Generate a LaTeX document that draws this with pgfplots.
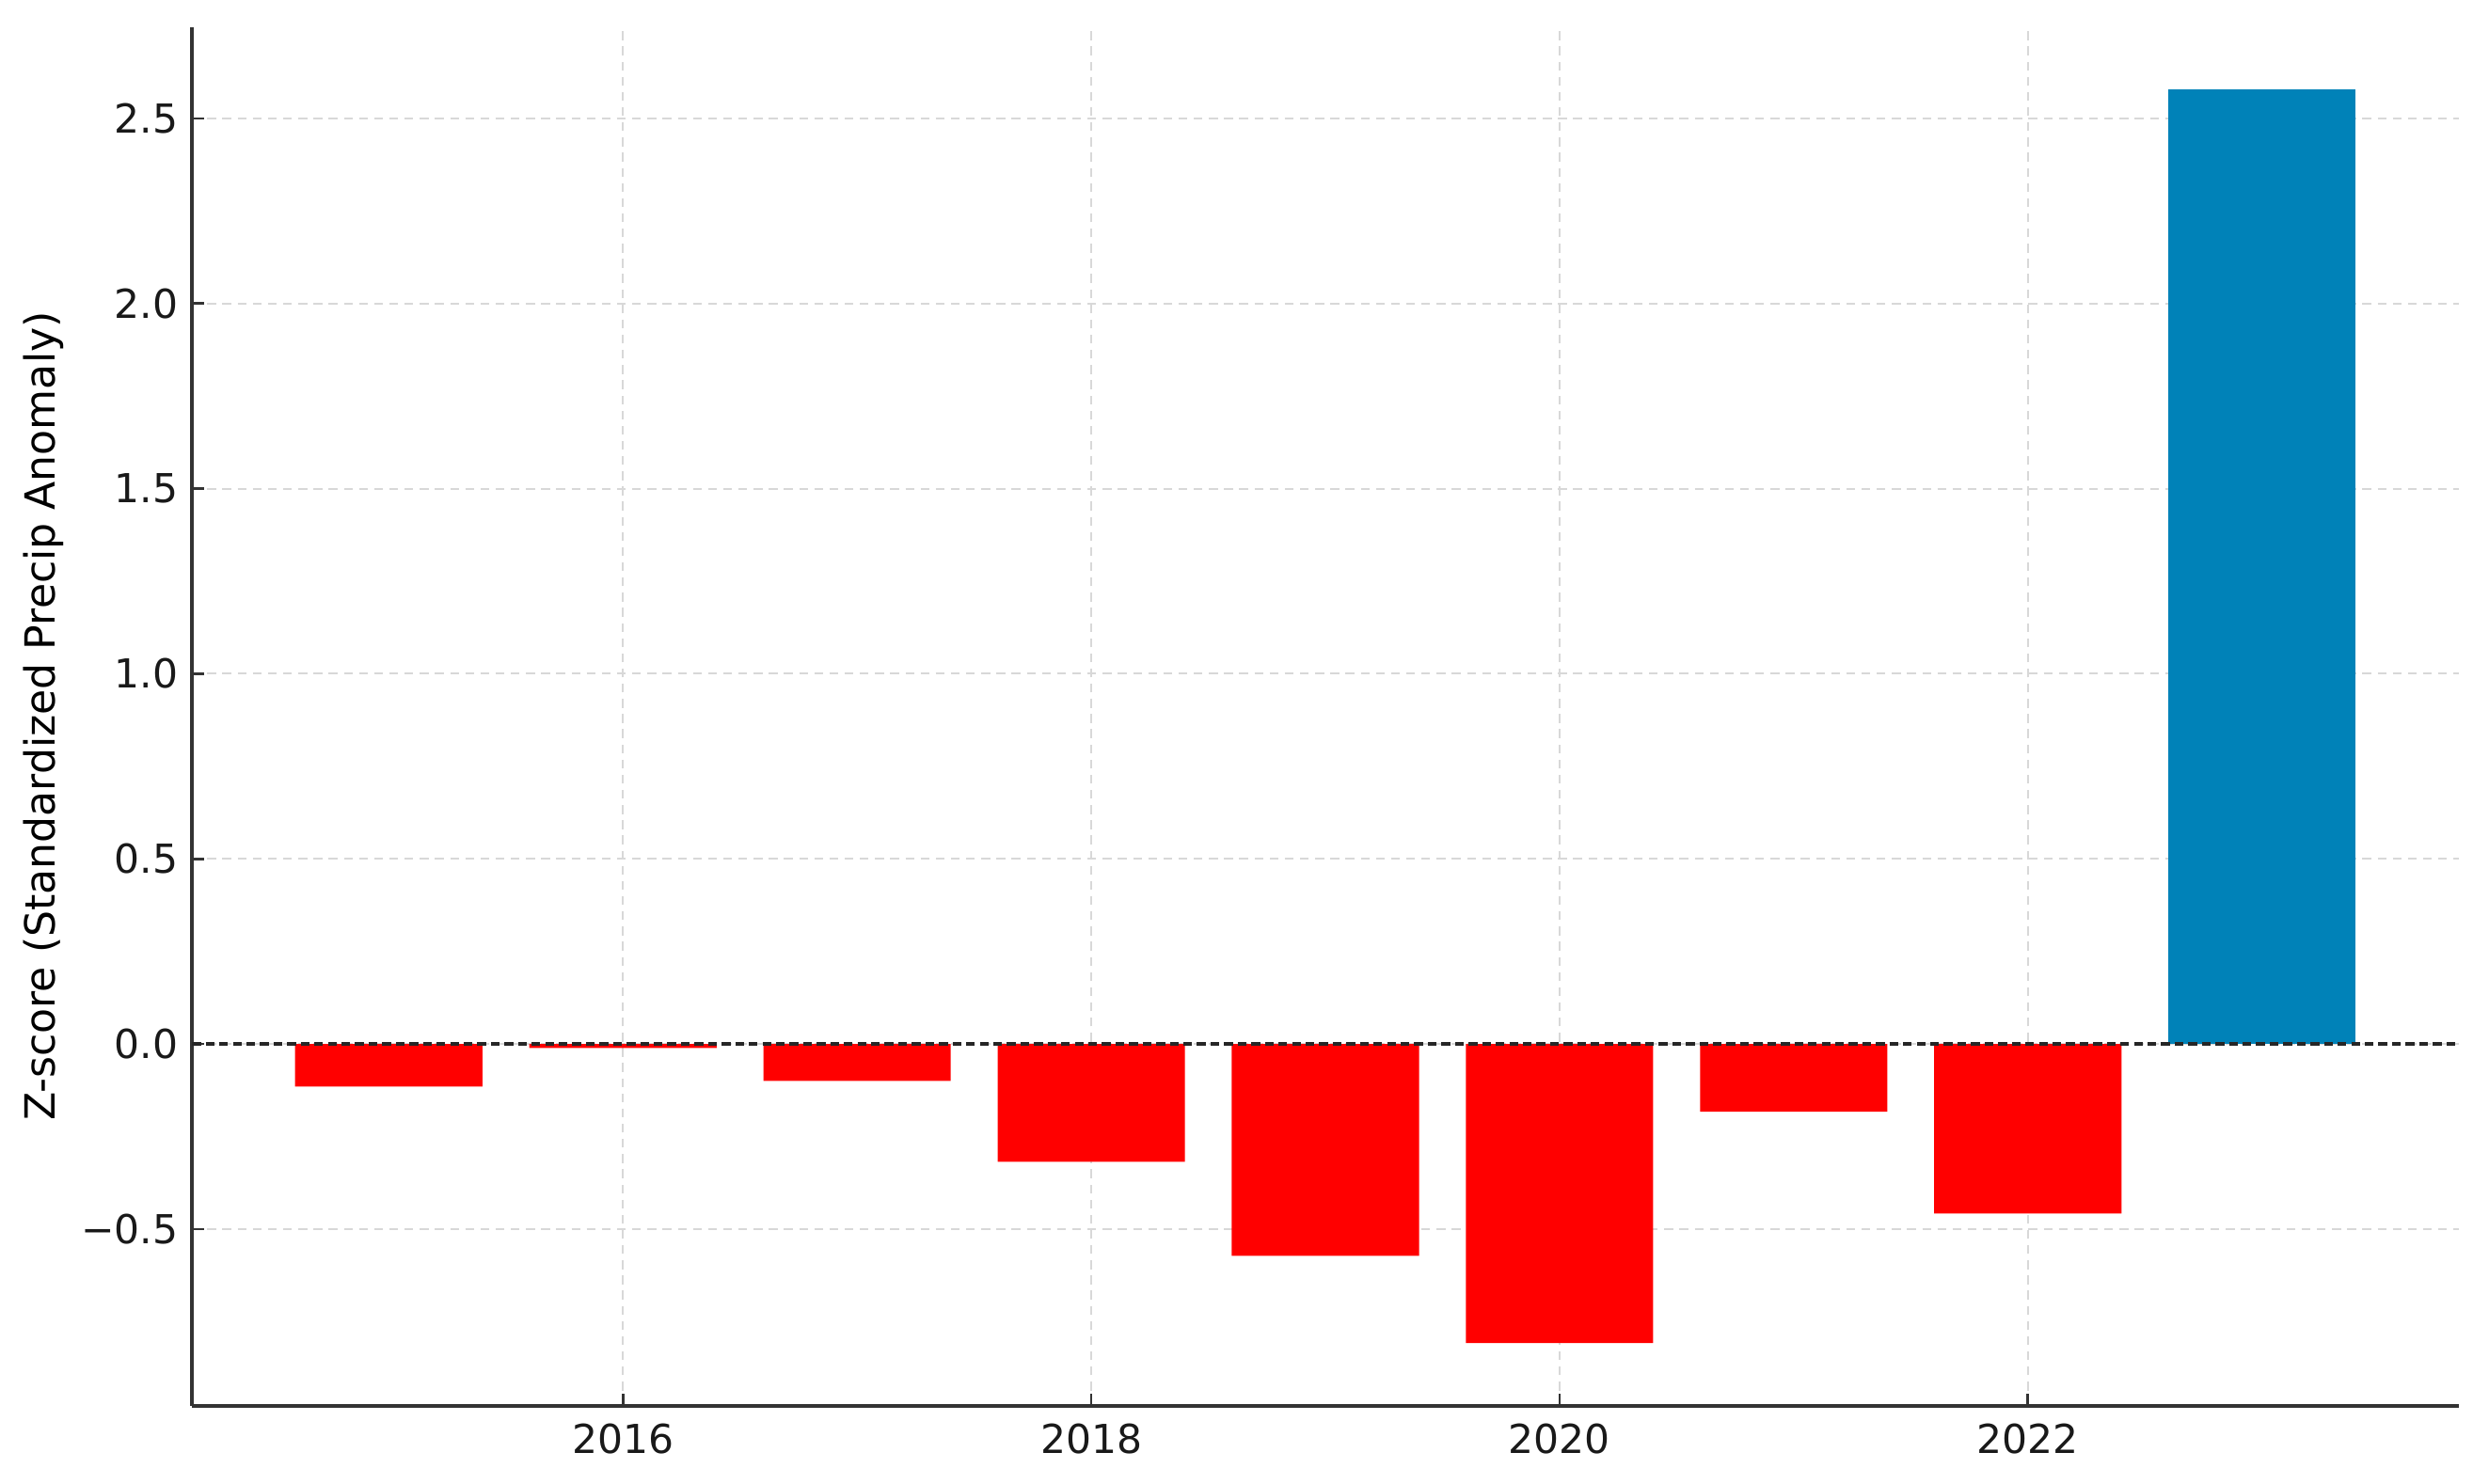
\documentclass[border=0pt]{standalone}
\usepackage{fontspec}
\setmainfont{DejaVu Sans}
\usepackage{pgfplots}
\pgfplotsset{compat=1.18}
\definecolor{negred}{HTML}{FF0000}
\definecolor{posblue}{HTML}{0082B8}
\definecolor{spine}{HTML}{333333}
\definecolor{gridgray}{HTML}{D8D8D8}

\begin{document}
\begin{tikzpicture}
\begin{axis}[
  scale only axis,
  width=567.5pt, height=345.3pt,
  xmin=2014.16, xmax=2023.84,
  ymin=-0.977, ymax=2.747,
  axis lines*=left,
  axis line style={spine, line width=1pt},
  xtick={2016,2018,2020,2022},
  xticklabels={2016,2018,2020,2022},
  ytick={-0.5,0,0.5,1,1.5,2,2.5},
  yticklabels={−0.5,0.0,0.5,1.0,1.5,2.0,2.5},
  tick align=inside,
  major tick length=3pt,
  tick style={spine, line width=0.6pt},
  ticklabel style={font=\fontsize{10}{12}\selectfont, text=black!90},
  xticklabel style={yshift=-1pt},
  grid=major,
  major grid style={gridgray, line width=0.5pt, dash pattern=on 2.2pt off 1.6pt},
  ylabel={Z-score (Standardized Precip Anomaly)},
  ylabel style={font=\fontsize{10.4}{12}\selectfont},
  ylabel shift=-2.5pt,
  clip=false,
]
% red bars (negative anomalies)
\addplot[ybar, bar width=0.8, bar shift=0pt, fill=negred, draw=none] coordinates {
  (2015,-0.115) (2016,-0.011) (2017,-0.100) (2018,-0.318)
  (2019,-0.572) (2020,-0.808) (2021,-0.183) (2022,-0.458)
};
% blue bar
\addplot[ybar, bar width=0.8, bar shift=0pt, fill=posblue, draw=none] coordinates {
  (2023,2.578)
};
% zero reference line
\addplot[black!85, line width=0.8pt, dash pattern=on 2.2pt off 1.2pt] coordinates {(2014.16,0) (2023.84,0)};
\end{axis}
% margins around the axis, as in the reference
\path ([xshift=7.6pt,yshift=6.75pt]current axis.north east);
\path ([yshift=-19.5pt]current axis.south west);
\path ([xshift=-48.1pt]current axis.south west);
\end{tikzpicture}
\end{document}
